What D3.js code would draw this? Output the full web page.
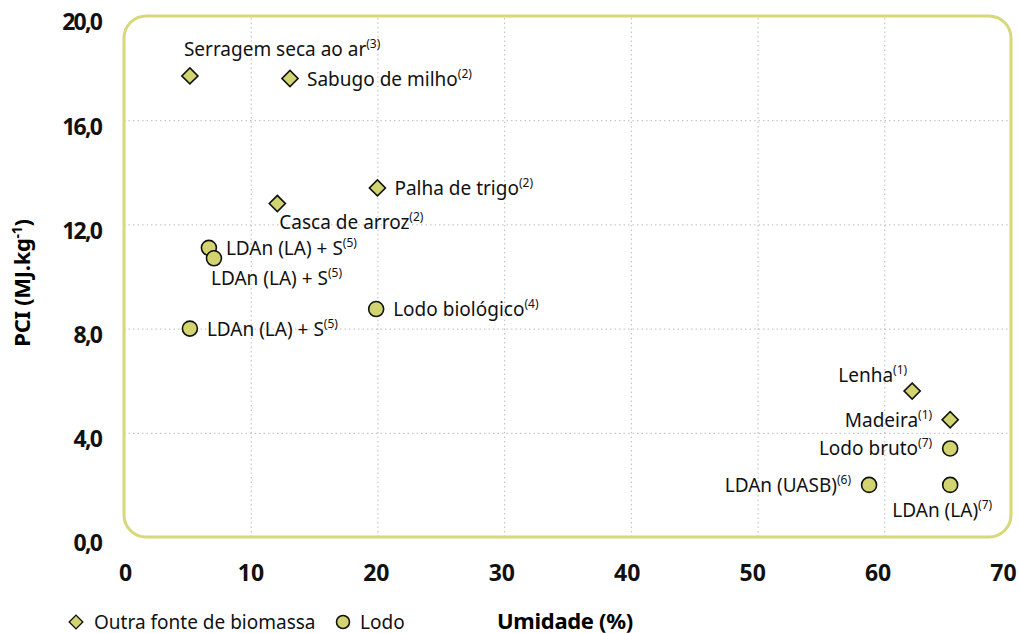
<!DOCTYPE html>
<html>
<head>
<meta charset="utf-8">
<script src="https://cdn.jsdelivr.net/npm/d3@7"></script>
<style>
	body { margin: 0; background: #fff; }
	text { font-family: "Noto Sans", sans-serif; }
	.grid line { stroke: #bbb; stroke-dasharray: 1.5 3; }
	.grid path { display: none; }
	.tick-lab text { font-weight: bold; font-size: 23px; fill: #111; }
	.tick-lab.yl text { letter-spacing: -1.8px; }
	.tick-lab path, .tick-lab line { display: none; }
</style>
</head>
<body>
<svg id="chart"></svg>
<script>
// dados: umidade (%) e PCI (MJ/kg)
var names = ["Serragem seca ao ar", "Sabugo de milho", "Palha de trigo", "Casca de arroz",
	"LDAn (LA) + S", "LDAn (LA) + S", "LDAn (LA) + S", "Lodo biológico",
	"Lenha", "Madeira", "Lodo bruto", "LDAn (UASB)", "LDAn (LA)"];
var refs = ["3", "2", "2", "2", "5", "5", "5", "4", "1", "1", "7", "6", "7"];
var umidade = [5.2, 13.1, 20.0, 12.1, 6.7, 7.1, 5.2, 19.9, 62.2, 65.2, 65.2, 58.8, 65.2];
var pci = [17.7, 17.6, 13.4, 12.8, 11.1, 10.7, 8.0, 8.75, 5.6, 4.5, 3.4, 2.0, 2.0];
var tipo = ["bio", "bio", "bio", "bio", "lodo", "lodo", "lodo", "lodo", "bio", "bio", "lodo", "lodo", "lodo"];
// posição do rótulo: r = direita, l = esquerda, t = acima, b = abaixo
var labelPos = ["t", "r", "r", "b", "r", "b", "r", "r", "t", "l", "l", "l", "b"];

var xTicks = [0, 10, 20, 30, 40, 50, 60, 70];
var yTicks = [0, 4, 8, 12, 16, 20];

var w = 1019, h = 633;
var mLeft = 124, mRight = 1011, mTop = 16, mBottom = 537;
var fillC = "#d2d46f", boxC = "#d6d879";

var svg = d3.select("#chart").attr("width", w).attr("height", h);

var x = d3.scaleLinear().domain([0, 70]).range([mLeft, mRight]);
var y = d3.scaleLinear().domain([0, 20]).range([mBottom, mTop]);
// os rótulos do eixo x ficam um pouco mais apertados que a grade
var xLab = d3.scaleLinear().domain([0, 70]).range([125, 1003]);

// grade
svg.append("g").attr("class", "grid")
	.attr("transform", "translate(0," + mBottom + ")")
	.call(d3.axisBottom(x).tickValues([10, 20, 30, 40, 50, 60]).tickSize(-(mBottom - mTop)).tickFormat(""));
svg.append("g").attr("class", "grid")
	.attr("transform", "translate(" + mLeft + ",0)")
	.call(d3.axisLeft(y).tickValues([4, 8, 12, 16]).tickSize(-(mRight - mLeft)).tickFormat(""));

// moldura
svg.append("rect")
	.attr("x", mLeft).attr("y", mTop)
	.attr("width", mRight - mLeft).attr("height", mBottom - mTop)
	.attr("rx", 22).attr("ry", 22)
	.attr("fill", "none").attr("stroke", boxC).attr("stroke-width", 3);

// rótulos dos eixos
svg.append("g").attr("class", "tick-lab")
	.attr("transform", "translate(0," + 573 + ")")
	.call(d3.axisBottom(xLab).tickValues(xTicks).tickSize(0).tickPadding(0))
	.selectAll("text").attr("dy", "0.36em");
svg.append("g").attr("class", "tick-lab yl")
	.attr("transform", "translate(" + 101 + ",0)")
	.call(d3.axisLeft(y).tickValues(yTicks).tickSize(0).tickPadding(0)
		.tickFormat(d => d3.format(".1f")(d).replace(".", ",")))
	.selectAll("text").attr("dy", "0.6em");

var yt = svg.append("text")
	.attr("transform", "translate(30,283) rotate(-90)")
	.attr("text-anchor", "middle")
	.style("font-weight", "bold").style("font-size", "22px").style("letter-spacing", "-0.3px");
yt.append("tspan").text("PCI (MJ.kg");
yt.append("tspan").attr("dy", -8).style("font-size", "14px").text("-1");
yt.append("tspan").attr("dy", 8).text(")");

svg.append("text")
	.attr("x", 565).attr("y", 629)
	.attr("text-anchor", "middle")
	.style("font-weight", "bold").style("font-size", "22px").style("letter-spacing", "-0.3px")
	.text("Umidade (%)");

var data = names.map((n, i) => ({ name: n, ref: refs[i], u: umidade[i], p: pci[i], t: tipo[i], pos: labelPos[i] }));

var diamond = d3.symbol().type(d3.symbolSquare).size(130);

function drawMark(sel, t) {
	if (t === "bio") {
		sel.append("path").attr("d", diamond).attr("transform", "rotate(45)");
	} else {
		sel.append("circle").attr("r", 7.5);
	}
	sel.selectAll("path, circle").attr("fill", fillC).attr("stroke", "#111").attr("stroke-width", 1.6);
}

var pts = svg.selectAll(".pt").data(data).enter().append("g")
	.attr("class", "pt")
	.attr("transform", d => "translate(" + x(d.u) + "," + y(d.p) + ")");
pts.each(function (d) { drawMark(d3.select(this), d.t); });

var offs = {
	r: { dx: 17, dy: 7, a: "start" },
	l: { dx: -18, dy: 7, a: "end" },
	t: { dx: -6, dy: -20, a: "start" },
	b: { dx: 2, dy: 25, a: "start" }
};

var labs = pts.append("text")
	.attr("x", d => offs[d.pos].dx)
	.attr("y", d => offs[d.pos].dy)
	.attr("text-anchor", d => offs[d.pos].a)
	.style("font-size", "19px").attr("fill", "#111");
labs.append("tspan").text(d => d.name);
labs.append("tspan").attr("dy", -8).style("font-size", "12px").text(d => "(" + d.ref + ")");

// ajustes pontuais
labs.filter(d => d.name === "Lenha").attr("x", -5).attr("y", -9).attr("text-anchor", "end");
labs.filter(d => d.name === "LDAn (LA)").attr("x", 42).attr("y", 32).attr("text-anchor", "end");
labs.filter(d => d.name === "LDAn (LA) + S" && d.pos === "b").attr("x", -3).attr("y", 27);

// legenda
var leg = svg.append("g").attr("transform", "translate(76,622)");
var l1 = leg.append("g"); drawMark(l1, "bio");
leg.append("text").attr("x", 18).attr("y", 7).style("font-size", "19px").attr("fill", "#111").text("Outra fonte de biomassa");
var l2 = leg.append("g").attr("transform", "translate(267,0)"); drawMark(l2, "lodo");
leg.append("text").attr("x", 284).attr("y", 7).style("font-size", "19px").attr("fill", "#111").text("Lodo");
leg.selectAll("path").attr("transform", "rotate(45) scale(0.85)");
leg.selectAll("circle").attr("r", 6.5);
</script>
</body>
</html>
